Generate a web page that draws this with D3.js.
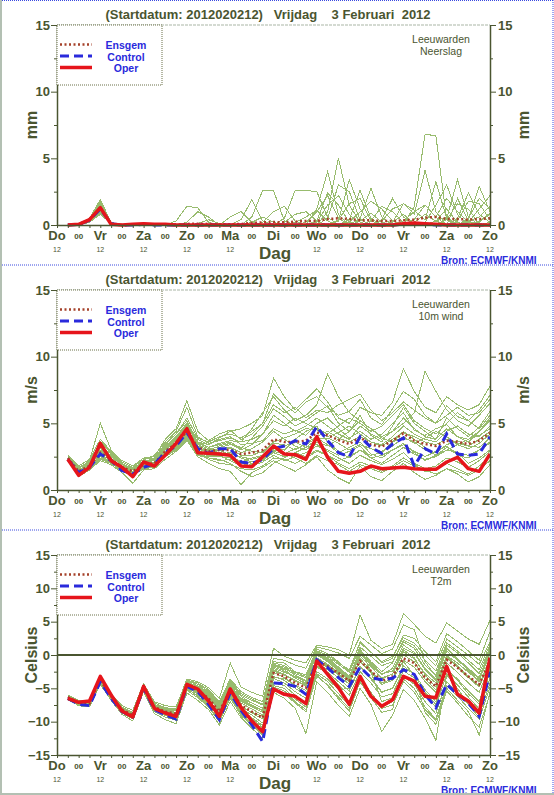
<!DOCTYPE html>
<html><head><meta charset="utf-8">
<script src="https://cdn.jsdelivr.net/npm/d3@7"></script>
<style>body{margin:0;background:#fff}svg{display:block;font-family:"Liberation Sans",Arial,sans-serif}</style>
</head><body>
<svg id="c" width="554" height="795"></svg>
<script>
// ---- time axis (hours after start 2012020212) ----
const steps = d3.range(6, 241, 6);
const dayNames = ["Do","Vr","Za","Zo","Ma","Di","Wo","Do","Vr","Za","Zo"];
const dayHours = d3.range(0, 241, 24);
const midnightHours = d3.range(12, 241, 24);
const titleText = "(Startdatum: 2012020212)   Vrijdag    3 Februari  2012";
const legendNames = ["Ensgem","Control","Oper"];

// ---- Neerslag (mm) ----
const precipTicks = [0,5,10,15];
const precipEnsgem = [0,0.05,0.35,1.3,0.1,0,0.02,0.05,0.03,0.02,0.03,0.08,0.1,0.08,0.05,0.06,0.08,0.15,0.2,0.22,0.2,0.25,0.3,0.3,0.45,0.5,0.45,0.35,0.35,0.3,0.3,0.35,0.4,0.55,0.6,0.45,0.45,0.4,0.45,0.5];
const precipControl = [0,0.05,0.35,1.2,0.1,0,0,0.05,0,0,0,0,0,0,0,0,0,0,0,0,0,0,0,0,0,0,0,0,0,0,0,0.05,0.1,0.05,0,0,0,0,0,0];
const precipOper = [0,0.05,0.4,1.3,0.05,0,0.05,0.1,0.05,0.05,0,0,0,0,0,0,0,0,0,0,0,0,0,0,0,0,0,0,0,0,0,0.1,0.15,0.1,0.05,0,0,0,0,0];
const precipMembers = [
[0,0.1,0.4,1.5,0.1,0,0,0.1,0,0,0,0,0,0,0,0,0,0,0,0,0,0,0,0,0,0,0,0,0,0,0,0,1.4,6.8,6.7,0.4,0,0,0,0.2],
[0,0.1,0.5,1.9,0.2,0,0,0,0,0,0,0,0,0,0,0,0,0,0,0,0,0,0,1.2,4.0,0.8,0,0,0,0,0,0,0,0,0,0,2.0,0.3,0,0],
[0,0,0.3,1.1,0.1,0,0,0,0,0,0,0,0,0,0,0,0,0,0,0,0,0,0,0,1.0,5.0,1.5,0.2,0,0,0,0,0,0,0,0,0,0.4,2.9,1.0],
[0,0.1,0.3,1.3,0.1,0,0,0,0,0,0,0,0,0,0,0,0,0.6,2.6,2.6,0.3,0,0,0,0,0,0,0,0,0,0,0,0,0,0.3,0.6,0,0,0,0],
[0,0,0.2,0.9,0.1,0,0,0,0,0,0,0,0,0,0,0,0,0,0,0,0.5,2.6,2.6,2.5,0.6,0,0,0,0,0,0.2,1.6,0.8,4.1,1.0,0,0,0,0,0],
[0,0.1,0.4,1.6,0.2,0,0,0,0,0,0,0,0,0,0,0,0,0,0,0,0,0,0,0,0,0.3,3.4,1.2,0,0,0,0,0,0,0,0.5,3.4,0.6,0,0],
[0,0,0.3,1.2,0.1,0,0,0,0,0,0.3,1.4,1.3,0.2,0,0,0,0,0,0,0,0,0,0,0,0,0.4,2.6,0.5,0,0,0,0,0,0,0,0,0,0,0],
[0,0.1,0.3,1.4,0.1,0,0,0,0,0,0,0,0,0,0,0,0.4,1.9,0.3,0,0,0,0,0,0,0,0,0.5,2.75,0.6,0,0,0,0,0,0,0.2,0,0,0],
[0,0,0.2,1.0,0.1,0,0,0,0,0,0,0,0,0,0,0.6,1.0,0.2,0,0,0,0,0,0,0,0,0,0,0,0.3,1.2,1.6,1.1,0.4,3.25,0.5,0,0,0,0],
[0,0.1,0.5,1.7,0.2,0,0,0,0,0,0,0,0,0,0,0,0,0,0,0,0,0,0,0.2,1.5,2.2,0.8,0,0,0,0,0,0,0,0,0,0,0.3,0.6,1.4],
[0,0,0.3,1.2,0.1,0,0,0,0,0,0,0,0,0,0,0,0,0,0.2,1.0,1.4,0.3,0,0,0,0,0,0,0,0,0,0,0.4,1.5,0.6,2.0,1.0,0.2,0,0],
[0,0.1,0.3,1.3,0.1,0,0,0,0,0,0,0,0,0,0,0,0,0,0,0,0,0,0,0,0,0,0.2,1.0,1.8,1.2,0.3,0,0,0,0,0,0.5,2.4,0.8,0.2],
[0,0,0.2,0.8,0.1,0,0,0,0,0,0,0,0.1,0.4,0.1,0,0,0,0,0,0,0.2,0.6,1.1,0.3,0,0,0,0,0.4,2.0,0.6,0,0,0,0,0,0.2,1.2,2.2],
[0,0.1,0.4,1.5,0.2,0,0,0,0,0,0,0,0,0,0,0,0,0,0,0,0,0,0,0,0.5,3.0,2.5,0.4,0,0,0,0,0,0,0.3,1.2,0.2,0,0,0],
[0,0,0.3,1.1,0.1,0,0,0,0,0,0,0.2,1.0,0.6,0,0,0,0,0,0,0,0,0,0,0,0,0,0,0.3,1.4,1.0,0.2,0,0,0,0.4,1.6,1.2,0.1,0],
[0,0.1,0.3,1.4,0.1,0,0,0,0,0,0,0,0,0,0,0,0,0,0,0,0.2,0.8,1.0,0.3,0,0,0,0,0,0,0,0.3,1.0,1.5,0.6,0,0,0,0.3,0.8],
[0,0,0.2,1.0,0.1,0,0,0,0,0,0,0,0,0,0,0,0,0,0,0,0,0,0,0.3,2.4,1.5,0.2,0,0,0,0.2,0.8,0.1,0,0,0,0,0,0.2,0.9],
[0,0.1,0.5,1.8,0.2,0,0,0,0,0,0,0,0,0,0,0,0,0,0,0,0,0,0,0,0,0.4,1.6,2.0,0.3,0,0,0,0,0.2,1.5,3.0,0.8,0,0,0],
[0,0,0.3,1.2,0.1,0,0,0,0,0,0,0,0,0,0,0,0,0.2,0.6,0.2,0,0,0,0,0,0,0,0.3,0.9,0.2,0,0,0,0,0,0,0.3,1.8,1.6,0.4],
[0,0.1,0.3,1.3,0.1,0,0,0,0,0,0,0,0,0,0,0,0,0,0,0,0,0,0.2,1.0,2.2,0.5,0,0,0,0,0,0,0.2,0.8,0.3,0,0,0.5,2.0,1.2]
];

// ---- 10m wind (m/s) ----
const windTicks = [0,5,10,15];
const windEnsgem = [2.4,1.4,1.8,2.8,2.3,1.7,1.4,1.9,2.0,2.9,3.5,4.4,3.2,2.9,3.0,3.0,2.7,2.8,3.0,3.8,3.6,3.6,3.7,4.3,4.1,3.75,3.45,3.95,3.4,3.25,3.7,4.25,3.7,3.45,3.3,3.7,3.6,3.45,3.7,4.3];
const windControl = [2.3,1.3,1.7,2.7,2.2,1.45,1.2,1.7,1.95,2.8,3.3,4.3,3.1,2.75,3.1,3.1,2.1,2.0,2.3,3.1,3.3,3.7,3.45,4.75,3.7,2.8,2.5,4.0,3.2,2.75,3.45,3.9,1.8,3.1,2.7,4.2,2.7,2.6,2.7,4.0];
const windOper = [2.3,1.1,1.7,3.5,2.2,1.7,1.0,2.1,1.8,2.6,3.5,4.6,2.8,2.75,2.7,2.6,1.8,1.75,2.5,3.3,2.7,2.65,2.3,4.0,2.45,1.4,1.25,1.4,1.8,1.6,1.65,1.7,1.6,1.55,1.55,2.1,2.45,1.6,1.4,2.7];
const windMembers = [
[2.5,1.2,1.9,3.2,2.6,1.8,1.2,2.1,2.4,3.4,4.2,5.2,3.6,3.2,3.4,3.6,3.1,3.9,4.8,6.1,5.5,4.8,5.2,5.8,6.3,5.0,4.4,5.6,4.1,3.6,4.8,6.2,5.0,4.4,3.8,5.4,4.6,4.0,4.7,5.9],
[2.3,1.5,1.6,2.4,2.0,1.4,1.1,1.6,1.7,2.5,3.1,4.0,2.8,2.4,2.2,2.3,2.0,1.8,2.1,2.6,2.2,2.5,2.8,3.3,2.9,2.4,2.0,2.6,2.2,1.9,2.3,2.8,2.0,1.6,1.8,2.4,2.1,1.7,2.2,2.9],
[2.6,1.6,2.2,5.0,3.0,2.2,1.8,2.4,2.5,3.8,4.6,6.7,4.4,3.7,4.2,4.5,3.8,4.2,5.0,7.2,6.4,5.8,6.6,7.0,6.2,5.6,5.9,6.8,5.4,4.9,6.1,7.4,6.8,5.6,5.0,6.3,5.5,5.2,6.0,7.1],
[2.4,1.3,1.7,2.6,2.1,1.5,1.3,1.8,2.0,2.7,3.3,4.2,2.9,2.6,2.5,2.4,2.2,2.0,2.3,2.9,2.7,3.1,3.4,3.9,3.4,2.8,3.2,3.6,2.7,2.4,3.0,3.4,2.9,2.5,2.9,3.3,2.6,2.4,3.0,3.5],
[2.2,1.0,1.5,2.2,1.9,1.3,0.5,1.5,1.6,2.3,2.9,3.7,2.5,2.0,1.6,1.4,0.4,1.3,1.7,2.2,1.8,1.4,1.9,2.5,1.5,0.9,0.5,1.8,1.0,0.7,1.4,2.0,1.3,0.8,1.1,1.6,1.2,0.6,1.0,1.9],
[2.5,1.7,2.0,3.3,2.7,2.0,1.6,2.2,2.2,3.2,3.9,4.9,3.6,3.4,3.8,4.0,3.4,3.5,3.7,4.6,4.2,4.5,4.1,5.0,5.4,4.6,3.9,4.4,3.8,4.2,5.0,5.8,4.5,4.1,4.6,4.9,4.0,3.6,4.4,5.2],
[2.3,1.4,1.8,2.9,2.4,1.7,1.5,2.0,2.0,3.0,3.6,4.5,3.3,3.0,3.1,3.2,2.8,3.1,3.6,4.4,3.8,3.3,3.0,3.6,3.3,3.8,4.4,5.2,4.6,3.9,3.6,4.0,3.5,3.9,4.4,4.0,3.4,3.1,3.5,4.2],
[2.4,1.1,1.7,2.5,2.0,1.6,1.4,1.7,1.8,2.6,3.2,4.0,2.9,2.7,3.0,2.6,2.1,2.4,2.6,3.2,3.0,3.8,4.4,4.8,3.6,2.9,2.4,3.0,2.6,2.8,3.6,4.4,3.8,3.2,2.6,3.0,3.4,3.8,4.1,4.6],
[2.6,1.8,2.3,3.8,2.9,2.1,1.7,2.3,2.6,3.6,4.4,6.2,4.0,3.5,3.7,3.9,3.6,4.6,5.8,7.0,6.0,5.2,5.6,6.4,8.7,7.0,5.8,5.2,4.6,4.0,4.4,5.0,5.8,8.9,7.4,6.0,5.2,4.8,5.6,6.5],
[2.3,1.3,1.6,2.7,2.2,1.6,1.3,1.8,1.9,2.8,3.4,4.3,3.1,2.8,2.8,2.7,2.5,2.3,2.5,3.1,3.3,3.6,3.2,3.8,3.9,3.5,3.0,3.4,3.1,2.9,3.3,3.9,3.6,3.0,2.8,3.4,3.7,3.3,3.2,3.9],
[2.4,1.5,1.9,3.0,2.5,1.9,1.6,2.0,2.1,3.1,3.7,4.6,3.4,3.1,3.2,3.4,3.2,2.9,2.8,3.6,3.9,4.2,4.6,4.5,4.0,4.3,4.8,4.2,3.6,3.4,4.0,4.8,4.2,3.8,3.6,4.4,4.8,4.2,4.0,4.8],
[2.2,1.2,1.5,2.3,2.0,1.5,1.2,1.6,1.8,2.6,3.0,3.9,2.7,2.3,2.0,1.9,1.6,1.5,1.8,2.4,2.3,2.0,2.4,2.9,2.6,2.0,1.6,2.1,1.8,1.4,1.8,2.4,1.9,1.4,1.5,2.0,1.6,1.2,1.8,2.5],
[2.5,1.6,2.1,3.5,2.8,2.0,1.6,2.2,2.3,3.3,4.0,5.0,3.8,3.4,3.9,4.4,4.6,5.0,5.6,8.4,7.0,6.0,6.8,7.6,6.6,5.4,5.0,6.2,5.8,5.6,6.6,9.1,7.4,6.2,5.8,7.0,6.4,6.0,6.4,7.8],
[2.4,1.4,1.8,2.8,2.3,1.8,1.5,1.9,2.0,2.9,3.5,4.4,3.2,2.9,3.0,3.1,2.6,2.6,2.9,3.5,3.4,3.0,3.5,4.0,4.4,3.9,3.6,4.0,3.6,3.3,3.8,4.3,4.0,3.6,3.4,3.8,3.5,3.3,3.8,4.4],
[2.3,1.3,1.7,2.6,2.1,1.6,1.3,1.7,1.9,2.8,3.3,4.1,3.0,2.6,2.7,2.8,2.4,2.1,2.2,2.8,2.5,2.8,3.2,3.4,3.0,2.6,2.9,3.3,2.4,2.0,2.6,3.2,2.7,2.3,2.5,3.0,2.8,2.6,3.0,3.6],
[2.5,1.5,2.0,3.1,2.6,1.9,1.5,2.1,2.2,3.2,3.8,4.8,3.5,3.2,3.5,3.7,3.6,3.8,4.2,5.2,4.8,5.4,5.0,4.6,4.2,4.8,5.4,5.0,4.4,4.8,5.6,6.4,5.2,4.6,4.2,5.0,5.8,5.2,4.6,5.6],
[2.4,1.3,1.6,2.5,2.1,1.5,1.2,1.7,1.8,2.7,3.2,4.2,3.0,2.5,2.6,2.2,1.8,1.9,2.4,3.0,2.8,2.4,2.0,2.6,2.2,1.9,1.4,1.9,1.6,1.3,1.7,2.2,1.8,1.5,1.2,1.6,1.4,1.1,1.5,2.2],
[2.6,1.7,2.1,3.6,2.8,2.1,1.7,2.3,2.4,3.5,4.2,5.4,3.9,3.6,4.0,4.2,3.9,4.4,5.0,6.4,5.8,6.2,5.4,6.0,5.8,6.4,6.8,7.2,6.0,5.2,5.8,6.6,6.0,5.4,5.0,5.6,6.2,5.6,5.8,6.8],
[2.3,1.2,1.6,2.4,2.0,1.4,1.1,1.6,1.7,2.5,3.0,3.8,2.6,2.4,2.3,2.0,1.4,1.0,1.3,2.0,2.4,2.8,2.5,3.0,2.6,2.2,2.5,3.0,2.4,2.6,3.0,3.5,2.8,2.2,2.6,3.2,2.8,2.0,2.4,3.0],
[2.4,1.4,1.8,2.9,2.3,1.7,1.4,1.9,2.0,3.0,3.6,4.6,3.3,3.0,3.3,3.5,3.0,3.4,4.2,5.6,5.0,4.4,4.8,5.4,4.8,4.2,3.8,4.8,4.2,3.8,4.4,5.4,4.6,4.0,3.8,4.6,4.0,3.8,4.4,5.4]
];

// ---- T2m (Celsius) ----
const t2mTicks = [-15,-10,-5,0,5,10,15];
const t2mEnsgem = [-6.3,-7.2,-7.3,-3.8,-6.2,-8.2,-9.0,-4.8,-7.8,-8.5,-8.8,-4.5,-5.3,-6.5,-8.5,-5.2,-7.5,-8.5,-9.4,-2.7,-3.2,-4.2,-4.9,-0.9,-1.7,-2.7,-3.9,-0.9,-2.4,-3.9,-3.2,-0.5,-1.2,-3.4,-4.7,-0.7,-1.9,-3.2,-4.4,-0.9];
const t2mControl = [-6.5,-7.4,-7.6,-4.0,-6.5,-8.5,-9.3,-5.0,-8.2,-9.0,-9.6,-4.7,-5.5,-7.4,-9.7,-5.7,-8.3,-10.5,-13.0,-4.2,-4.3,-4.7,-5.9,-0.7,-1.9,-3.4,-4.7,-1.8,-3.4,-3.7,-3.5,-2.2,-2.9,-5.9,-7.9,-4.4,-5.9,-7.2,-9.2,-2.5];
const t2mOper = [-6.5,-7.1,-6.9,-3.2,-6.0,-8.4,-9.3,-4.7,-8.0,-8.7,-9.2,-4.4,-5.1,-6.9,-9.2,-5.1,-7.9,-9.9,-11.5,-5.1,-5.9,-6.2,-7.3,-0.9,-2.9,-4.9,-7.4,-3.2,-6.2,-7.7,-6.7,-3.2,-3.9,-6.2,-6.4,-1.7,-5.9,-6.9,-8.7,-0.4];
const t2mMembers = [
[-6.0,-7.0,-7.1,-3.5,-5.9,-7.8,-8.6,-4.4,-7.2,-7.9,-8.1,-3.8,-4.2,-5.2,-7.0,-3.6,-5.5,-6.4,-7.0,-0.5,-0.8,-1.5,-2.0,1.2,0.8,0.3,-0.5,2.8,1.5,0.2,0.9,4.5,3.8,-1.0,-3.2,1.0,-0.5,-2.4,-4.0,1.5],
[-6.6,-7.5,-7.7,-4.2,-6.6,-8.7,-9.6,-5.3,-8.5,-9.3,-9.8,-5.3,-6.4,-7.8,-10.0,-6.5,-9.0,-10.4,-11.8,-5.0,-5.8,-7.2,-8.5,-3.2,-4.5,-6.3,-8.0,-4.1,-6.2,-8.0,-7.5,-4.0,-5.6,-8.2,-9.8,-5.0,-6.8,-8.5,-12.0,-5.5],
[-6.2,-7.1,-7.4,-3.7,-6.1,-8.0,-8.9,-4.6,-7.6,-8.2,-8.4,-4.0,-4.8,-6.0,-7.8,-4.5,-6.5,-7.2,-8.0,-1.5,-2.0,-3.0,-3.8,0.3,-0.4,-1.8,-3.2,0.8,-1.0,-2.5,-1.2,2.0,1.0,-1.5,-3.0,1.5,0.3,-1.2,-2.8,1.2],
[-6.5,-7.4,-7.5,-4.0,-6.4,-8.4,-9.3,-5.0,-8.1,-8.9,-9.2,-4.9,-5.8,-7.2,-9.3,-5.8,-8.4,-9.6,-10.8,-3.5,-4.2,-5.5,-6.5,-1.8,-2.8,-4.5,-6.0,-2.5,-4.2,-6.3,-5.8,-2.4,-3.4,-6.0,-7.8,-2.8,-4.5,-6.3,-8.1,-3.5],
[-6.1,-6.9,-7.0,-3.6,-6.0,-7.9,-8.7,-4.5,-7.5,-8.1,-8.3,-4.2,-4.6,-5.6,-7.4,-4.0,-6.0,-6.8,-7.5,-1.0,-1.2,-2.5,-3.0,0.9,0.2,-1.0,-2.5,2.0,0.5,-1.2,-0.5,3.0,2.5,0.5,-1.0,3.2,2.0,0.6,-0.8,3.5],
[-6.4,-7.3,-7.2,-3.9,-6.3,-8.3,-9.1,-4.9,-7.9,-8.6,-9.0,-4.6,-5.5,-6.9,-9.0,-5.6,-8.0,-9.0,-10.2,-3.4,-3.5,-4.6,-5.8,-1.3,-2.2,-3.4,-5.0,-1.7,-3.4,-5.5,-5.0,-2.0,-2.8,-5.2,-7.0,-2.2,-3.6,-5.4,-7.0,-2.4],
[-6.3,-7.2,-7.3,-3.8,-6.2,-8.1,-8.8,-4.7,-7.7,-8.4,-8.7,-4.4,-5.0,-6.2,-8.0,-4.8,-7.0,-7.8,-8.6,-2.0,-2.6,-3.2,-4.0,0.0,-1.0,-2.4,-3.6,-0.2,-1.8,-3.4,-2.9,0.5,-0.6,-2.8,-4.2,-0.1,-1.2,-2.6,-3.8,0.2],
[-6.7,-7.6,-7.8,-4.4,-6.8,-8.9,-9.9,-5.5,-8.8,-9.7,-10.3,-5.7,-6.8,-8.2,-10.5,-7.0,-9.4,-11.0,-12.5,-5.6,-6.5,-8.0,-11.8,-4.0,-5.6,-7.6,-9.2,-5.0,-7.4,-11.5,-9.0,-5.2,-6.8,-9.5,-12.8,-3.0,-5.0,-7.4,-9.4,-2.0],
[-6.0,-6.8,-6.9,-3.4,-5.8,-7.6,-8.3,-4.3,-7.0,-7.6,-7.8,-3.6,-4.0,-4.9,-6.5,-1.2,-4.8,-5.6,-6.2,1.0,-0.2,-0.8,-1.2,1.5,1.2,0.8,0.0,6.0,2.2,1.0,1.6,6.2,4.6,2.8,1.8,4.8,3.6,2.4,1.6,5.2],
[-6.3,-7.3,-7.5,-3.9,-6.3,-8.2,-9.0,-4.8,-7.9,-8.6,-8.9,-4.5,-5.4,-6.6,-8.7,-5.2,-7.6,-8.7,-9.6,-2.6,-3.4,-4.5,-5.3,-1.0,-1.8,-3.0,-4.4,-0.5,-2.4,-4.2,-3.6,0.0,-1.0,-3.6,-5.2,-0.4,-1.8,-3.4,-4.8,-1.0],
[-6.5,-7.3,-7.4,-3.8,-6.3,-8.3,-9.2,-4.9,-8.0,-8.8,-9.1,-4.8,-5.9,-7.3,-9.5,-6.0,-8.7,-9.9,-11.0,-4.2,-4.6,-6.0,-7.2,-2.5,-3.6,-5.2,-5.0,1.0,-2.5,-7.0,-6.4,-3.2,-4.4,-7.0,-8.8,-4.0,-5.6,-7.4,-9.0,-4.2],
[-6.2,-7.0,-7.2,-3.6,-6.0,-7.9,-8.7,-4.6,-7.4,-8.0,-8.2,-3.9,-4.4,-5.4,-7.2,-3.8,-5.8,-6.6,-7.4,-1.2,-1.6,-2.6,-3.2,0.6,0.0,-1.2,-2.2,1.8,0.4,-1.0,-0.2,2.6,1.8,0.0,-1.6,2.4,1.2,0.0,-1.4,2.0],
[-6.4,-7.2,-7.4,-3.9,-6.2,-8.3,-9.0,-4.8,-7.8,-8.5,-8.8,-4.7,-5.5,-6.8,-8.9,-5.4,-7.8,-8.6,-9.2,-2.2,-2.9,-3.8,-4.5,-0.4,-1.4,-2.6,-3.8,0.2,-1.4,-3.0,-2.0,1.5,0.4,-2.0,-3.6,1.0,-0.6,-2.0,-3.4,0.8],
[-6.6,-7.4,-7.6,-4.1,-6.5,-8.6,-9.4,-5.1,-8.3,-9.0,-9.5,-5.1,-6.1,-7.6,-9.8,-6.2,-8.9,-10.2,-11.2,-4.6,-5.0,-6.6,-7.8,-2.8,-4.0,-5.8,-7.6,-3.5,-5.6,-7.8,-7.0,-3.6,-5.0,-7.8,-9.6,-4.6,-6.2,-8.0,-9.6,-4.8],
[-6.2,-7.1,-7.2,-3.7,-6.1,-8.0,-8.8,-4.6,-7.6,-8.3,-8.6,-4.3,-4.9,-6.1,-7.9,-4.4,-6.6,-7.5,-8.3,-1.8,-2.4,-3.5,-4.2,0.1,-0.8,-2.2,-3.5,0.5,-1.2,-2.8,-2.4,1.0,0.2,-2.2,-3.8,0.6,-0.8,-2.2,-3.6,0.4],
[-6.3,-7.2,-7.3,-3.8,-6.2,-8.2,-9.0,-4.8,-7.8,-8.5,-8.8,-4.6,-5.2,-6.4,-8.3,-5.0,-7.2,-8.1,-9.0,-2.4,-3.0,-3.9,-4.6,-0.6,-1.6,-2.8,-4.0,-1.0,-2.6,-4.4,-3.8,-0.8,-1.8,-4.0,-5.6,-1.2,-2.6,-4.2,-5.6,-1.6],
[-6.1,-7.0,-7.1,-3.6,-6.0,-7.9,-8.6,-4.5,-7.4,-8.1,-8.3,-4.1,-4.6,-5.8,-7.6,-4.2,-6.2,-7.2,-8.0,-1.4,-1.8,-2.8,-3.4,0.4,-0.2,-1.4,-2.6,1.2,-0.2,-1.6,-1.0,2.2,1.4,-0.8,-2.4,1.8,0.6,-0.8,-2.2,1.6],
[-6.4,-7.3,-7.4,-3.9,-6.3,-8.4,-9.2,-5.0,-8.0,-8.8,-9.2,-4.8,-5.7,-7.0,-9.2,-5.5,-8.2,-9.4,-10.6,-3.2,-3.8,-5.0,-6.0,-1.6,-2.6,-4.0,-5.4,-1.8,-3.6,-5.6,-5.0,-1.6,-3.0,-5.6,-7.4,-2.0,-3.8,-5.8,-7.4,-2.6],
[-6.2,-7.1,-7.3,-3.7,-6.1,-8.1,-8.9,-4.7,-7.7,-8.4,-8.7,-4.5,-5.1,-6.3,-8.2,-4.6,-6.8,-7.6,-8.4,-1.6,-2.2,-3.4,-4.4,0.2,-0.6,-2.0,-3.4,0.6,-1.6,-3.6,-2.8,0.8,-0.4,-3.0,-4.8,-0.2,-1.6,-3.2,-4.6,-0.4],
[-6.5,-7.4,-7.6,-4.0,-6.4,-8.5,-9.4,-5.2,-8.2,-9.1,-9.4,-5.0,-6.2,-7.7,-9.9,-6.4,-9.1,-10.5,-12.0,-4.8,-5.4,-7.0,-8.2,-3.0,-4.6,-6.6,-8.4,-4.0,-6.4,-8.6,-8.2,-1.0,-3.0,-8.6,-10.4,-5.4,-7.2,-9.2,-10.8,-5.8]
];

const panels = [
  {unit:"mm", name:"Neerslag", domain:[0,15], ticks:precipTicks, members:precipMembers, ensgem:precipEnsgem, control:precipControl, oper:precipOper, zero:false},
  {unit:"m/s", name:"10m wind", domain:[0,15], ticks:windTicks, members:windMembers, ensgem:windEnsgem, control:windControl, oper:windOper, zero:false},
  {unit:"Celsius", name:"T2m", domain:[-15,15], ticks:t2mTicks, members:t2mMembers, ensgem:t2mEnsgem, control:t2mControl, oper:t2mOper, zero:true}
];

// ---- drawing ----
const TXT = "#4a5530";
const BLUE = "#2a2adc";
const RED = "#e6151b";
const ENS = "#a5412a";
const GREEN = "#98bc6e";
const svg = d3.select("#c");
const x = d3.scaleLinear().domain([0, 240]).range([57, 490]);

function styleAxis(sel) {
  sel.selectAll("path.domain").attr("stroke", TXT).attr("stroke-width", 1.5);
  sel.selectAll(".tick line").attr("stroke", TXT).attr("stroke-width", 1);
  sel.selectAll(".tick text").attr("fill", TXT).attr("font-size", 13).attr("font-weight", "bold")
     .attr("font-family", '"Liberation Sans", Arial, sans-serif');
}

panels.forEach((p, k) => {
  const g = svg.append("g").attr("transform", `translate(0,${k * 265})`);
  const y = d3.scaleLinear().domain(p.domain).range([225, 25]);
  const line = d3.line().x((d, i) => x(steps[i])).y(d => y(d));

  // title
  g.append("text").attr("x", 268).attr("y", 19).attr("text-anchor", "middle")
    .attr("xml:space", "preserve").style("white-space", "pre")
    .attr("font-size", 13).attr("font-weight", "bold").attr("fill", TXT).text(titleText);

  // top border of plot
  g.append("line").attr("x1", 57).attr("x2", 490).attr("y1", 25).attr("y2", 25)
    .attr("stroke", "#a9b5a5").attr("stroke-width", 1.2).attr("stroke-dasharray", "3,1");

  // clip
  const cid = "clip" + k;
  g.append("clipPath").attr("id", cid).append("rect").attr("x", 57).attr("y", 24).attr("width", 433).attr("height", 204);
  const plot = g.append("g").attr("clip-path", `url(#${cid})`);

  plot.append("g").selectAll("path").data(p.members).join("path")
    .attr("d", line).attr("fill", "none").attr("stroke", GREEN).attr("stroke-width", 1)
    .attr("shape-rendering", "crispEdges");

  if (p.zero) {
    plot.append("line").attr("x1", 57).attr("x2", 490).attr("y1", y(0)).attr("y2", y(0))
      .attr("stroke", TXT).attr("stroke-width", 1.8);
  }

  plot.append("path").datum(p.ensgem).attr("d", line).attr("fill", "none")
    .attr("stroke", ENS).attr("stroke-width", 2.5).attr("stroke-dasharray", "2,2.5");
  plot.append("path").datum(p.control).attr("d", line).attr("fill", "none")
    .attr("stroke", BLUE).attr("stroke-width", 3).attr("stroke-dasharray", "9,5");
  plot.append("path").datum(p.oper).attr("d", line).attr("fill", "none")
    .attr("stroke", RED).attr("stroke-width", 3.5).attr("stroke-linejoin", "round");

  // minor ticks
  const minor = d3.range(p.domain[0], p.domain[1] + 0.01, 2.5).filter(v => !p.ticks.includes(v));
  g.append("g").attr("transform", "translate(57,0)")
    .call(d3.axisLeft(y).tickValues(minor).tickSize(3).tickFormat("").tickSizeOuter(0))
    .call(s => { s.select("path.domain").remove(); s.selectAll("line").attr("stroke", TXT); });
  g.append("g").attr("transform", "translate(490,0)")
    .call(d3.axisRight(y).tickValues(minor).tickSize(3).tickFormat("").tickSizeOuter(0))
    .call(s => { s.select("path.domain").remove(); s.selectAll("line").attr("stroke", TXT); });

  // major axes
  g.append("g").attr("transform", "translate(57,0)")
    .call(d3.axisLeft(y).tickValues(p.ticks).tickSize(6).tickPadding(1).tickSizeOuter(0))
    .call(styleAxis);
  g.append("g").attr("transform", "translate(490,0)")
    .call(d3.axisRight(y).tickValues(p.ticks).tickSize(6).tickPadding(2).tickSizeOuter(0))
    .call(styleAxis);

  // x axis
  g.append("g").attr("transform", "translate(0,225)")
    .call(d3.axisBottom(x).tickValues(d3.range(0, 241, 6)).tickSize(3).tickFormat("").tickSizeOuter(0))
    .call(styleAxis);

  // x labels
  g.append("g").selectAll("text").data(dayNames).join("text")
    .attr("x", (d, i) => x(dayHours[i])).attr("y", 240).attr("text-anchor", "middle")
    .attr("font-size", 13).attr("font-weight", "bold").attr("fill", TXT).text(d => d);
  g.append("g").selectAll("text").data(midnightHours).join("text")
    .attr("x", d => x(d)).attr("y", 239).attr("text-anchor", "middle")
    .attr("font-size", 8).attr("font-weight", "bold").attr("fill", TXT).text("00");
  g.append("g").selectAll("text").data(dayHours.filter(h => h !== 120)).join("text")
    .attr("x", d => x(d)).attr("y", 252).attr("text-anchor", "middle")
    .attr("font-size", 7).attr("fill", TXT).text("12");
  g.append("text").attr("x", 275).attr("y", 259).attr("text-anchor", "middle")
    .attr("font-size", 17).attr("font-weight", "bold").attr("fill", TXT).text("Dag");
  g.append("text").attr("x", 441).attr("y", 263.5)
    .attr("font-size", 10).attr("font-weight", "bold").attr("fill", BLUE).text("Bron: ECMWF/KNMI");

  // y axis titles
  [31, 523].forEach(cx => {
    g.append("text").attr("transform", `translate(${cx},125) rotate(-90)`)
      .attr("text-anchor", "middle").attr("dy", "0.36em")
      .attr("font-size", 16).attr("font-weight", "bold").attr("fill", TXT).text(p.unit);
  });

  // station / parameter
  g.append("text").attr("x", 441).attr("y", 43).attr("text-anchor", "middle")
    .attr("font-size", 10.5).attr("fill", TXT).text("Leeuwarden");
  g.append("text").attr("x", 441).attr("y", 55).attr("text-anchor", "middle")
    .attr("font-size", 10.5).attr("fill", TXT).text(p.name);

  // legend
  const lg = g.append("g");
  lg.append("rect").attr("x", 57).attr("y", 25).attr("width", 105).attr("height", 60)
    .attr("fill", "#fff").attr("stroke", "#6a7048").attr("stroke-width", 1).attr("stroke-dasharray", "1,1");
  const legendStyles = [
    {c: ENS, w: 2.5, dash: "2,2.5"},
    {c: BLUE, w: 3, dash: "9,5"},
    {c: RED, w: 3.5, dash: null}
  ];
  legendNames.forEach((nm, i) => {
    const ly = 44.5 + i * 11.5;
    const ln = lg.append("line").attr("x1", 60).attr("x2", 92).attr("y1", ly).attr("y2", ly)
      .attr("stroke", legendStyles[i].c).attr("stroke-width", legendStyles[i].w);
    if (legendStyles[i].dash) ln.attr("stroke-dasharray", legendStyles[i].dash);
    lg.append("text").attr("x", 126).attr("y", ly + 4.5).attr("text-anchor", "middle")
      .attr("font-size", 10.5).attr("font-weight", "bold").attr("fill", BLUE).text(nm);
  });
});

// page frame and panel separators
[0.5, 265, 530].forEach(yy => {
  svg.append("line").attr("x1", 0).attr("x2", 554).attr("y1", yy).attr("y2", yy)
    .attr("stroke", "#3a4ae0").attr("stroke-width", 1).attr("stroke-dasharray", "1,1");
});
svg.append("line").attr("x1", 1).attr("x2", 1).attr("y1", 0).attr("y2", 795)
  .attr("stroke", "#b3c0b3").attr("stroke-width", 2);
svg.append("line").attr("x1", 553).attr("x2", 553).attr("y1", 0).attr("y2", 795)
  .attr("stroke", "#3a4ae0").attr("stroke-width", 1).attr("stroke-dasharray", "1,1");
svg.append("line").attr("x1", 0).attr("x2", 554).attr("y1", 794).attr("y2", 794)
  .attr("stroke", "#b3c0b3").attr("stroke-width", 2);
</script>
</body></html>
